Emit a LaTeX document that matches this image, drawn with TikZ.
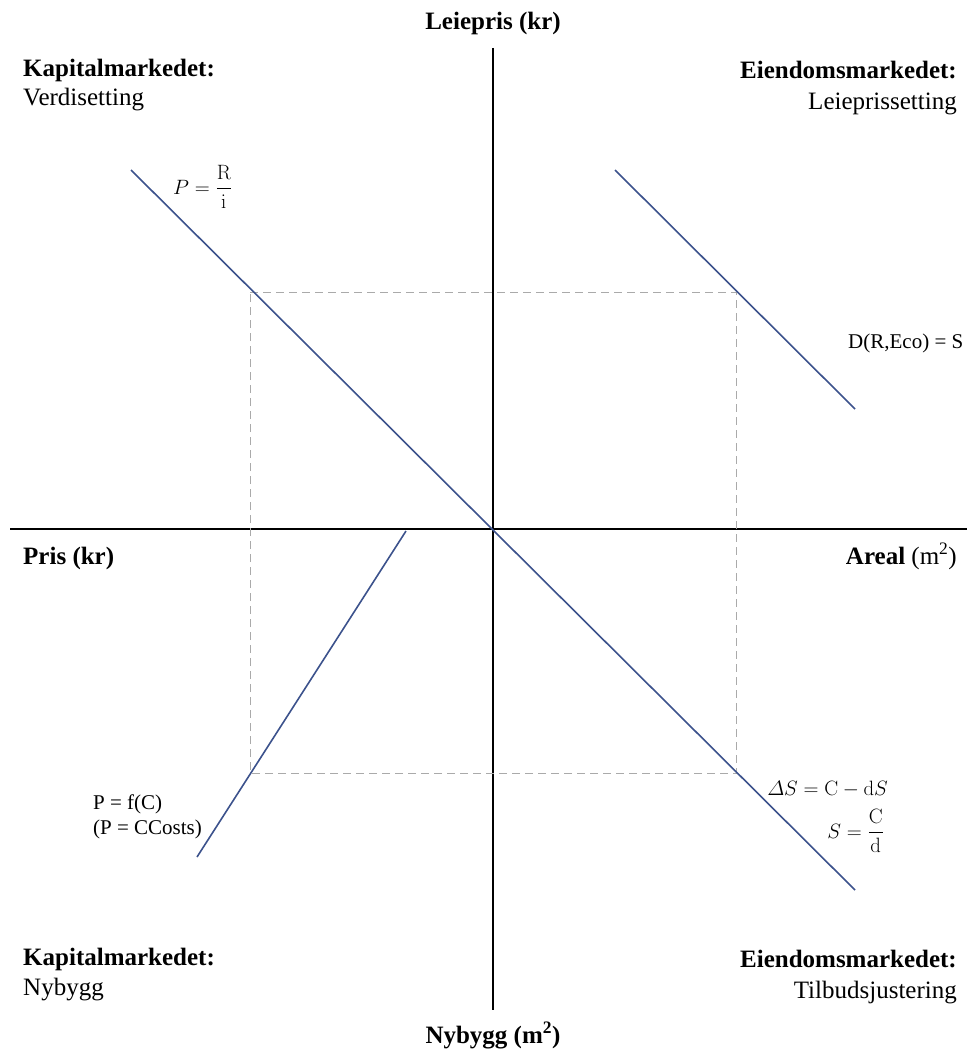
\documentclass[tikz,border=0pt]{standalone}
\usepackage{amsmath}
\usepackage[no-math]{fontspec}
\setmainfont{Liberation Serif}
\definecolor{curveblue}{RGB}{60,82,140}
\definecolor{dashgrey}{RGB}{170,170,170}
\begin{document}
\begin{tikzpicture}[x=1pt,y=-1pt,
  txt/.style={font=\fontsize{25}{30}\selectfont, inner sep=0pt},
  hd/.style={font=\fontsize{25}{30}\selectfont\bfseries, inner sep=0pt},
  eq/.style={font=\fontsize{21}{25}\selectfont, inner sep=0pt},
  axis/.style={draw=black, line width=1.3pt},
  curve/.style={draw=curveblue, line width=1.6pt},
  guide/.style={draw=dashgrey, line width=1pt, dash pattern=on 8pt off 5pt}]
\useasboundingbox (0,0) rectangle (967,1051);
% axes
\coordinate (vt) at (493,48);
\coordinate (vb) at (493,1010);
\coordinate (hl) at (10,529);
\coordinate (hr) at (967,529);
\draw[axis] (vt) -- (vb);
\draw[axis] (hl) -- (hr);
% dashed guide rectangle
\coordinate (g1) at (250,292);
\coordinate (g2) at (736,292);
\coordinate (g3) at (736,773);
\coordinate (g4) at (250,773);
\draw[guide] (g1) -- (g2) -- (g3) -- (g4) -- cycle;
% curves
\coordinate (a1) at (131,170);
\coordinate (a2) at (855,890);
\coordinate (b1) at (615,170);
\coordinate (b2) at (855,409);
\coordinate (c1) at (406,531);
\coordinate (c2) at (197,857);
\draw[curve] (a1) -- (a2);
\draw[curve] (b1) -- (b2);
\draw[curve] (c1) -- (c2);
% axis titles
\node[hd, anchor=base] (ytop) at (493,30) {Leiepris (kr)};
\node[hd, anchor=base] (ybot) at (493,1043) {Nybygg (m\textsuperscript{2})};
\node[hd, anchor=base west] (xleft) at (23,564) {Pris (kr)};
\node[txt, anchor=base east] (xright) at (957,564) {\textbf{Areal} (m\textsuperscript{2})};
% quadrant titles
\node[hd, anchor=base west] (q1a) at (23,77) {Kapitalmarkedet:};
\node[txt, anchor=base west] (q1b) at (23,106) {Verdisetting};
\node[hd, anchor=base east] (q2a) at (957,79) {Eiendomsmarkedet:};
\node[txt, anchor=base east] (q2b) at (957,110) {Leieprissetting};
\node[hd, anchor=base west] (q3a) at (23,965) {Kapitalmarkedet:};
\node[txt, anchor=base west] (q3b) at (23,995) {Nybygg};
\node[hd, anchor=base east] (q4a) at (957,967) {Eiendomsmarkedet:};
\node[txt, anchor=base east] (q4b) at (957,998) {Tilbudsjustering};
% equations
\node[eq, anchor=base west] (e1) at (173,194) {$P=\dfrac{\mathrm{R}}{\mathrm{i}}$};
\node[eq, anchor=base west] (e2) at (848,348) {D(R,Eco) = S};
\node[eq, anchor=base west] (e3) at (93,809) {P = f(C)};
\node[eq, anchor=base west] (e4) at (93,834) {(P = CCosts)};
\node[eq, anchor=base east] (e5) at (888,795) {$\varDelta S=\mathrm{C}-\mathrm{d}S$};
\node[eq, anchor=base east] (e6) at (884,838) {$S=\dfrac{\mathrm{C}}{\mathrm{d}}$};
\end{tikzpicture}
\end{document}
